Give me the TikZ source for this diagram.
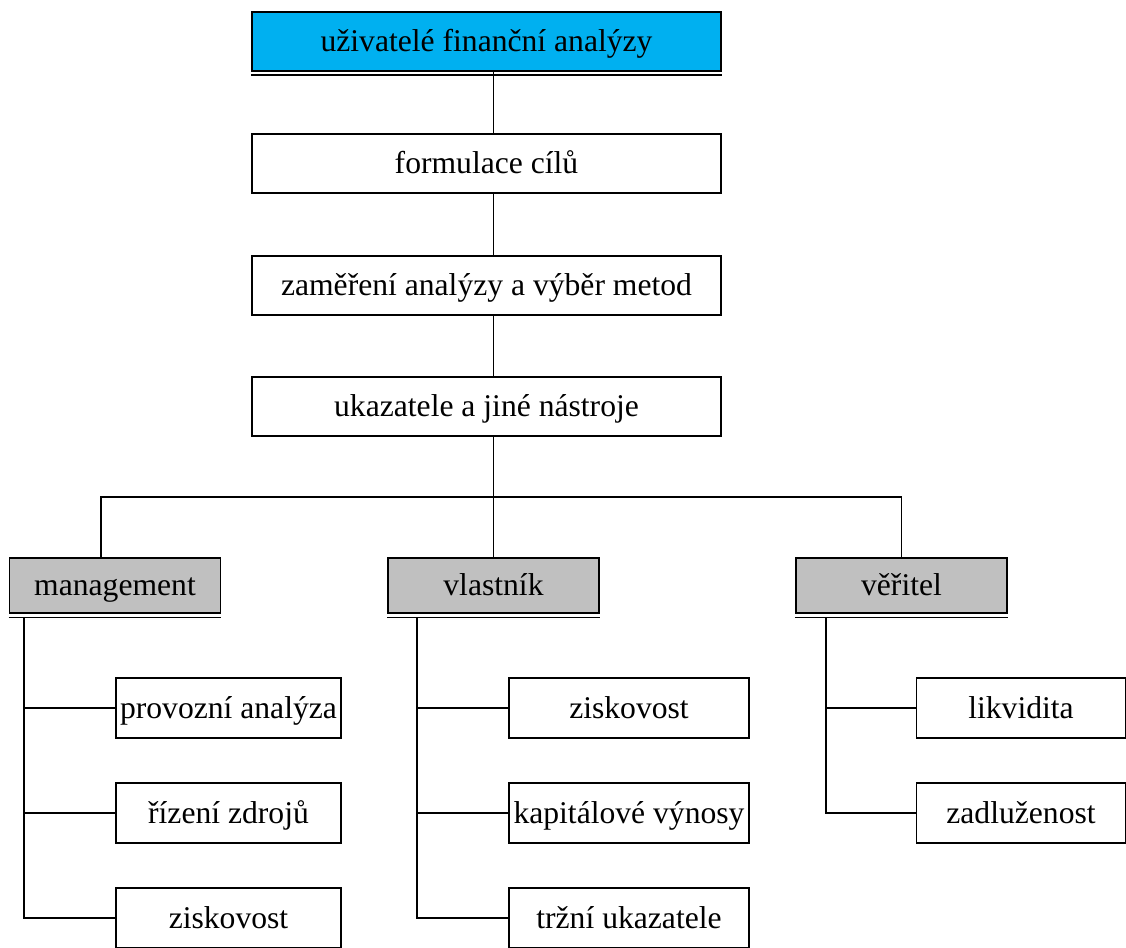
\documentclass[tikz,border=0pt]{standalone}
\usepackage{fontspec}
\setmainfont{Liberation Serif}
\usepackage{tikz}
\usetikzlibrary{calc,positioning}
\definecolor{usercyan}{HTML}{00B0F0}
\definecolor{groupgray}{HTML}{C0C0C0}
\tikzstyle{widebox} = [draw, line width=1pt, minimum width=9.38cm, minimum height=1.18cm, inner sep=0pt, text height=0.5cm, text depth=0.1cm]
\tikzstyle{groupbox} = [draw, line width=1pt, fill=groupgray, minimum width=4.22cm, minimum height=1.1cm, inner sep=0pt, text height=0.5cm, text depth=0.1cm]
\tikzstyle{leafbox} = [draw, line width=1pt, minimum height=1.2cm, inner sep=0pt, text height=0.5cm, text depth=0.1cm]
\tikzstyle{link} = [line width=1pt]

\begin{document}
\begin{tikzpicture}[x=0.02cm,y=-0.02cm,font=\fontsize{18}{21}\selectfont]
\clip (0,0) rectangle (1126,947);
\fill[white] (0,0) rectangle (1126,947);
% column of boxes
\node[widebox, fill=usercyan] (users) at (486.5,41.5) {uživatelé finanční analýzy};
\node[widebox] (goals) at (486.5,163.5) {formulace cílů};
\node[widebox] (focus) at (486.5,285.5) {zaměření analýzy a výběr metod};
\node[widebox] (tools) at (486.5,406.5) {ukazatele a jiné nástroje};
% three groups
\node[groupbox] (mgmt) at (115,585.5) {management};
\node[groupbox] (owner) at (493.5,585.5) {vlastník};
\node[groupbox] (creditor) at (901.5,585.5) {věřitel};
% leaves
\node[leafbox, minimum width=4.5cm] (m1) at (228.5,708) {provozní analýza};
\node[leafbox, minimum width=4.5cm] (m2) at (228.5,813) {řízení zdrojů};
\node[leafbox, minimum width=4.5cm] (m3) at (228.5,918) {ziskovost};
\node[leafbox, minimum width=4.8cm] (o1) at (629,708) {ziskovost};
\node[leafbox, minimum width=4.8cm] (o2) at (629,813) {kapitálové výnosy};
\node[leafbox, minimum width=4.8cm] (o3) at (629,918) {tržní ukazatele};
\node[leafbox, minimum width=4.18cm] (c1) at (1021,708) {likvidita};
\node[leafbox, minimum width=4.18cm] (c2) at (1021,813) {zadluženost};
% double bottom edges
\foreach \n in {users,mgmt,owner,creditor}
  \draw[line width=1pt] ([yshift=-0.07cm]\n.south west) -- ([yshift=-0.07cm]\n.south east);
% connectors
\draw[link] (users.south -| owner) -- (goals.north -| owner);
\draw[link] (goals.south -| owner) -- (focus.north -| owner);
\draw[link] (focus.south -| owner) -- (tools.north -| owner);
\draw[link] (tools.south -| owner) -- (owner.north);
\coordinate (bus) at ($(tools.south)!0.5!(owner.north)$);
\draw[link] ([xshift=-0.28cm]mgmt.north) |- (bus) -| (creditor.north);
\draw[link] ([xshift=0.3cm,yshift=-0.07cm]mgmt.south west) |- (m1.west);
\draw[link] ([xshift=0.3cm,yshift=-0.07cm]mgmt.south west) |- (m2.west);
\draw[link] ([xshift=0.3cm,yshift=-0.07cm]mgmt.south west) |- (m3.west);
\draw[link] ([xshift=0.6cm,yshift=-0.07cm]owner.south west) |- (o1.west);
\draw[link] ([xshift=0.6cm,yshift=-0.07cm]owner.south west) |- (o2.west);
\draw[link] ([xshift=0.6cm,yshift=-0.07cm]owner.south west) |- (o3.west);
\draw[link] ([xshift=0.62cm,yshift=-0.07cm]creditor.south west) |- (c1.west);
\draw[link] ([xshift=0.62cm,yshift=-0.07cm]creditor.south west) |- (c2.west);
\end{tikzpicture}
\end{document}
